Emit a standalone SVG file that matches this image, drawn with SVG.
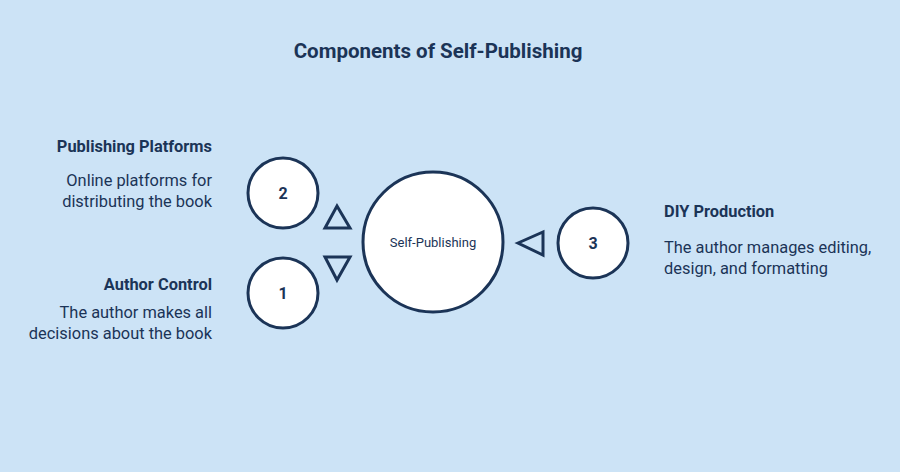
<svg xmlns="http://www.w3.org/2000/svg" width="900" height="472" viewBox="0 0 900 472">
<style>
text{font-family:Roboto,"Liberation Sans",sans-serif;fill:#1b3457}
.c{fill:#fff;stroke:#1b3457;stroke-width:3}
.t{fill:none;stroke:#1b3457;stroke-width:3;stroke-linejoin:miter}
.h{font-size:16.4px;font-weight:bold}
.d{font-size:16.4px}
.n{font-size:16px;font-weight:bold;text-anchor:middle}
</style>
<rect width="900" height="472" fill="#cce3f6"/>
<text x="438" y="58" text-anchor="middle" font-size="20.5" font-weight="bold">Components of Self-Publishing</text>
<g id="connectors">
<polygon class="t" points="325,228 350,228 337,206"/>
<polygon class="t" points="325,257 350,257 337,280"/>
<polygon class="t" points="518,243 543,232 543,255"/>
</g>
<g id="center"><circle class="c" cx="433" cy="242" r="70"/><text x="433" y="247" text-anchor="middle" font-size="13">Self-Publishing</text></g>
<g id="n2"><circle class="c" cx="283" cy="193" r="35"/><text class="n" x="283" y="199">2</text>
<text class="h" x="212" y="152" text-anchor="end">Publishing Platforms</text>
<text class="d" x="212" y="186" text-anchor="end">Online platforms for</text>
<text class="d" x="212" y="207" text-anchor="end">distributing the book</text></g>
<g id="n1"><circle class="c" cx="283" cy="293" r="35"/><text class="n" x="283" y="299">1</text>
<text class="h" x="212" y="290" text-anchor="end">Author Control</text>
<text class="d" x="212" y="318" text-anchor="end">The author makes all</text>
<text class="d" x="212" y="339" text-anchor="end">decisions about the book</text></g>
<g id="n3"><circle class="c" cx="593" cy="243" r="35"/><text class="n" x="593" y="249">3</text>
<text class="h" x="664" y="217">DIY Production</text>
<text class="d" x="664" y="253">The author manages editing,</text>
<text class="d" x="664" y="274">design, and formatting</text></g>
</svg>
